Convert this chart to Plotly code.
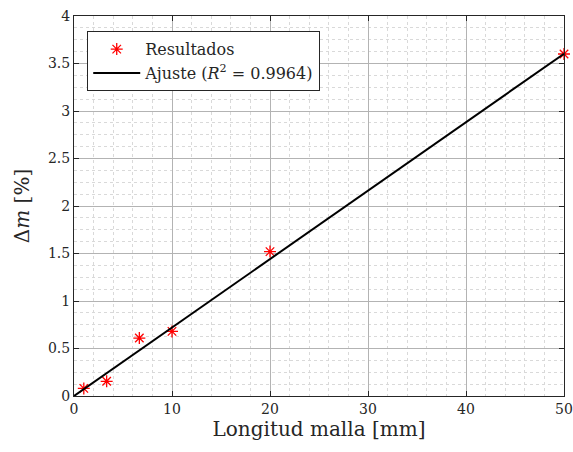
import plotly.graph_objects as go

# Data
mesh_length = [1, 3.333, 6.667, 10, 20, 50]
delta_m = [0.08, 0.155, 0.61, 0.68, 1.52, 3.6]
fit_x = [0, 50]
fit_y = [0, 3.603]
x_ticks = [0, 10, 20, 30, 40, 50]
y_ticks = [0, 0.5, 1, 1.5, 2, 2.5, 3, 3.5, 4]
y_tick_text = ["0", "0.5", "1", "1.5", "2", "2.5", "3", "3.5", "4"]

FONT = "DejaVu Serif"

fig = go.Figure()
fig.add_trace(go.Scatter(
    x=mesh_length, y=delta_m, mode="markers", name="Resultados",
    marker=dict(symbol="asterisk-open", size=10, color="red",
                line=dict(color="red", width=1.3)),
    cliponaxis=False,
))
fig.add_trace(go.Scatter(
    x=fit_x, y=fit_y, mode="lines",
    name="Ajuste (<i>R</i><sup>2</sup> = 0.9964)",
    line=dict(color="black", width=2),
))

axis_common = dict(
    showline=True, linecolor="#262626", linewidth=1, mirror="ticks",
    ticks="inside", ticklen=5, tickcolor="#262626",
    showgrid=True, gridcolor="#b3b3b3", gridwidth=1,
    zeroline=False, automargin=False,
    tickfont=dict(family=FONT, size=14, color="#262626"),
)

fig.update_xaxes(
    range=[0, 50], tickvals=x_ticks,
    minor=dict(dtick=2, showgrid=True, gridcolor="#d9d9d9", griddash="dot",
               gridwidth=1, ticks=""),
    title=dict(text="Longitud malla [mm]", font=dict(family=FONT, size=20, color="#262626"),
               standoff=3),
    **axis_common,
)
fig.update_yaxes(
    range=[0, 4], tickvals=y_ticks, ticktext=y_tick_text,
    minor=dict(dtick=0.125, showgrid=True, gridcolor="#d9d9d9", griddash="dot",
               gridwidth=1, ticks=""),
    title=dict(text="Δ<i>m</i> [%]", font=dict(family=FONT, size=20, color="#262626"),
               standoff=12),
    **axis_common,
)

fig.update_layout(
    width=573, height=452,
    margin=dict(l=74, r=9, t=16, b=56),
    paper_bgcolor="white", plot_bgcolor="white",
    showlegend=True,
    font=dict(family=FONT),
    legend=dict(
        x=0.027, y=0.96, xanchor="left", yanchor="top",
        bgcolor="white", bordercolor="#262626", borderwidth=1,
        font=dict(family=FONT, size=16, color="#262626"),
        tracegroupgap=0, itemwidth=47,
    ),
)

fig.write_html("out.html")
